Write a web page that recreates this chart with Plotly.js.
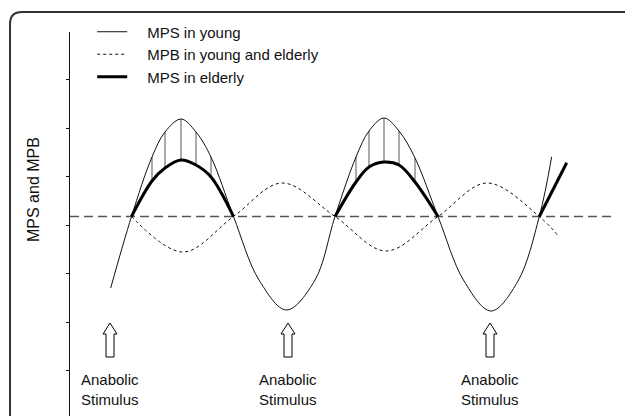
<!DOCTYPE html>
<html>
<head>
<meta charset="utf-8">
<script src="https://cdn.plot.ly/plotly-3.0.1.min.js"></script>
<style>
html,body{margin:0;padding:0;background:#fff;}
#chart{width:625px;height:416px;}
</style>
</head>
<body>
<div id="chart"></div>
<script>
// ---- data (time units, response units; baseline = 0) ----
var youngX = [4.07, 6.15, 8.2, 9.5, 11.1, 12.6, 14.1, 16.35, 18.9, 21.65, 24.5, 26.5, 28.6, 29.9, 31.4, 32.9, 34.5, 36.8, 39.4, 42.1, 44.8, 46.93, 48.17];
var youngY = [-7.15, 0, 5.95, 8.45, 9.75, 8.45, 5.95, 0, -6.35, -9.35, -6.35, 0, 5.95, 8.55, 9.85, 8.55, 5.85, 0, -6.45, -9.45, -6.45, 0, 5.98];

var mpbX = [6.15, 11.3, 16.35, 21.2, 26.5, 31.6, 36.8, 41.7, 46.93, 48.9];
var mpbY = [0, -3.55, 0, 3.35, 0, -3.45, 0, 3.35, 0, -2.02];

var elderlyX = [6.15, 8.2, 9.5, 11.1, 12.6, 14.1, 16.35, null, 26.5, 28.6, 29.9, 31.4, 32.9, 34.5, 36.8, null, 46.93, 49.67];
var elderlyY = [0, 3.55, 4.85, 5.65, 5.15, 3.95, 0, null, 0, 3.45, 4.95, 5.45, 5.15, 3.45, 0, null, 0, 5.38];

var hatchX = [8.2, 9.5, 11.1, 12.6, 14.1, 28.6, 29.9, 31.4, 32.9, 34.5];
var hatchTop = [5.95, 8.45, 9.75, 8.45, 5.95, 5.95, 8.55, 9.85, 8.55, 5.85];
var hatchBottom = [3.55, 4.85, 5.65, 5.15, 3.95, 3.45, 4.95, 5.45, 5.15, 3.45];

var baselineX = [0, 54.27];
var baselineY = [0, 0];

var stimulusX = [4.0, 21.8, 42.0];
var stimulusLabel = "Anabolic<br>Stimulus";
var legendNames = ["MPS in young", "MPB in young and elderly", "MPS in elderly"];
var yTitle = "MPS and MPB";

// ---- build traces ----
var hx = [], hy = [];
for (var i = 0; i < hatchX.length; i++) {
  hx.push(hatchX[i], hatchX[i], null);
  hy.push(hatchBottom[i], hatchTop[i], null);
}

var FONT = "Liberation Sans, Arial, Helvetica, sans-serif";
var GAP = "\u2002\u2002"; // extra space between legend sample and label

var traces = [
  {x: baselineX, y: baselineY, mode: "lines", showlegend: false, hoverinfo: "skip",
   line: {color: "#555", width: 1.4, dash: "9px,5px"}},
  {x: hx, y: hy, mode: "lines", showlegend: false, hoverinfo: "skip",
   line: {color: "#666", width: 1.1}},
  {x: youngX, y: youngY, name: GAP + legendNames[0], mode: "lines",
   line: {color: "#111", width: 1, shape: "spline", smoothing: 1}},
  {x: mpbX, y: mpbY, name: GAP + legendNames[1], mode: "lines",
   line: {color: "#111", width: 1, dash: "3px,3px", shape: "spline", smoothing: 1}},
  {x: elderlyX, y: elderlyY, name: GAP + legendNames[2], mode: "lines", connectgaps: false,
   line: {color: "#000", width: 3, shape: "spline", smoothing: 1}}
];

// ---- shapes: hollow arrows and frame ----
var shapes = [];
stimulusX.forEach(function (sx) {
  shapes.push({
    type: "path", xref: "x", yref: "y",
    xsizemode: "pixel", ysizemode: "pixel",
    xanchor: sx, yanchor: -10.65,
    path: "M0,0 L7,-11 L4,-11 L4,-34 L-4,-34 L-4,-11 L-7,-11 Z",
    line: {color: "#000", width: 1}, fillcolor: "#fff"
  });
});
shapes.push({
  type: "path", xref: "paper", yref: "paper",
  xsizemode: "pixel", ysizemode: "pixel",
  xanchor: 0, yanchor: 1,
  path: "M-60,-420 L-60,8 Q-60,20 -48,20 L580,20",
  line: {color: "#333", width: 2}
});

var annotations = stimulusX.map(function (sx) {
  return {x: sx, y: -15.25, xref: "x", yref: "y", text: stimulusLabel,
    showarrow: false, yanchor: "top", xanchor: "center", align: "center",
    font: {family: FONT, size: 15, color: "#111"}};
});
annotations.push({
  x: -0.0667, y: 0.591, xref: "paper", yref: "paper", text: yTitle,
  textangle: -90, showarrow: false, xanchor: "center", yanchor: "middle",
  font: {family: FONT, size: 16, color: "#111"}
});

var layout = {
  width: 625, height: 416,
  margin: {l: 70, r: 0, t: 32, b: 0, pad: 0},
  paper_bgcolor: "#fff", plot_bgcolor: "#fff",
  font: {family: FONT, color: "#111"},
  xaxis: {visible: false, range: [0, 55.5], fixedrange: true},
  yaxis: {range: [-19.95, 18.45], showline: true, linecolor: "#111", linewidth: 1,
    ticks: "outside", ticklen: 3, tickcolor: "#111", tickwidth: 1,
    tick0: -0.85, dtick: 4.85, showticklabels: false, showgrid: false, zeroline: false,
    fixedrange: true},
  showlegend: true,
  legend: {x: 0.04, y: 1.043, xanchor: "left", yanchor: "top",
    bgcolor: "rgba(0,0,0,0)", font: {family: FONT, size: 15, color: "#111"},
    tracegroupgap: 0},
  shapes: shapes,
  annotations: annotations
};

Plotly.newPlot("chart", traces, layout, {displayModeBar: false, staticPlot: true});
</script>
</body>
</html>
